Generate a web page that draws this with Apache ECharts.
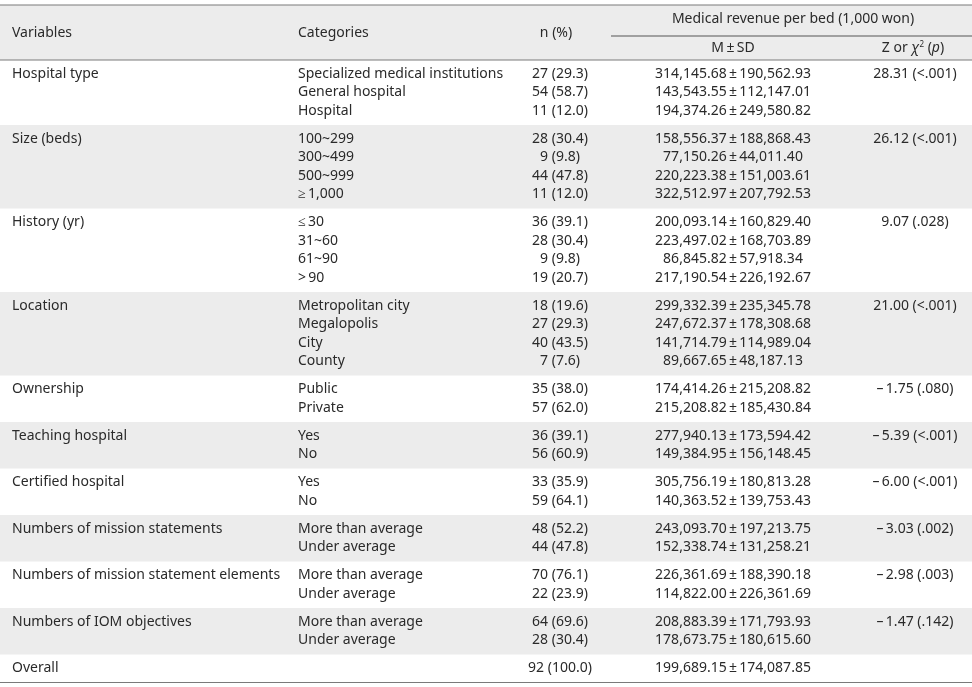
<!DOCTYPE html>
<html>
<head>
<meta charset="utf-8">
<script src="https://cdn.jsdelivr.net/npm/echarts@6/dist/echarts.min.js"></script>
<style>
html,body{margin:0;padding:0;background:#fff;}
#chart{width:972px;height:687px;}
</style>
</head>
<body>
<div id="chart"></div>
<script>
// ---------- DATA ----------
const variables = [
  'Hospital type', 'Size (beds)', 'History (yr)', 'Location', 'Ownership',
  'Teaching hospital', 'Certified hospital', 'Numbers of mission statements',
  'Numbers of mission statement elements', 'Numbers of IOM objectives', 'Overall'
];
const categories = [
  ['Specialized medical institutions', 'General hospital', 'Hospital'],
  ['100~299', '300~499', '500~999', '\u2265\u20091,000'],
  ['\u2264\u200930', '31~60', '61~90', '>\u200990'],
  ['Metropolitan city', 'Megalopolis', 'City', 'County'],
  ['Public', 'Private'],
  ['Yes', 'No'],
  ['Yes', 'No'],
  ['More than average', 'Under average'],
  ['More than average', 'Under average'],
  ['More than average', 'Under average'],
  ['']
];
const nPercent = [
  ['27 (29.3)', '54 (58.7)', '11 (12.0)'],
  ['28 (30.4)', '9 (9.8)', '44 (47.8)', '11 (12.0)'],
  ['36 (39.1)', '28 (30.4)', '9 (9.8)', '19 (20.7)'],
  ['18 (19.6)', '27 (29.3)', '40 (43.5)', '7 (7.6)'],
  ['35 (38.0)', '57 (62.0)'],
  ['36 (39.1)', '56 (60.9)'],
  ['33 (35.9)', '59 (64.1)'],
  ['48 (52.2)', '44 (47.8)'],
  ['70 (76.1)', '22 (23.9)'],
  ['64 (69.6)', '28 (30.4)'],
  ['92 (100.0)']
];
const PM = '\u2009\u00b1\u2009';
const meanSD = [
  ['314,145.68' + PM + '190,562.93', '143,543.55' + PM + '112,147.01', '194,374.26' + PM + '249,580.82'],
  ['158,556.37' + PM + '188,868.43', '77,150.26' + PM + '44,011.40', '220,223.38' + PM + '151,003.61', '322,512.97' + PM + '207,792.53'],
  ['200,093.14' + PM + '160,829.40', '223,497.02' + PM + '168,703.89', '86,845.82' + PM + '57,918.34', '217,190.54' + PM + '226,192.67'],
  ['299,332.39' + PM + '235,345.78', '247,672.37' + PM + '178,308.68', '141,714.79' + PM + '114,989.04', '89,667.65' + PM + '48,187.13'],
  ['174,414.26' + PM + '215,208.82', '215,208.82' + PM + '185,430.84'],
  ['277,940.13' + PM + '173,594.42', '149,384.95' + PM + '156,148.45'],
  ['305,756.19' + PM + '180,813.28', '140,363.52' + PM + '139,753.43'],
  ['243,093.70' + PM + '197,213.75', '152,338.74' + PM + '131,258.21'],
  ['226,361.69' + PM + '188,390.18', '114,822.00' + PM + '226,361.69'],
  ['208,883.39' + PM + '171,793.93', '178,673.75' + PM + '180,615.60'],
  ['199,689.15' + PM + '174,087.85']
];
const testStats = [
  '28.31 (<.001)', '26.12 (<.001)', '9.07 (.028)', '21.00 (<.001)',
  '\u2013\u20091.75 (.080)', '\u2013\u20095.39 (<.001)', '\u2013\u20096.00 (<.001)',
  '\u2013\u20093.03 (.002)', '\u2013\u20092.98 (.003)', '\u2013\u20091.47 (.142)', ''
];
const headers = {
  variables: 'Variables',
  categories: 'Categories',
  n: 'n (%)',
  group: 'Medical revenue per bed (1,000 won)',
  msd: 'M\u2009\u00b1\u2009SD'
};

// ---------- LAYOUT / STYLE ----------
const W = 972, H = 687;
const topLineY = 5, headBottomY = 60;
const lineH = 18.5, padTop = 14, padBottom = 14;
const colVarX = 12, colCatX = 298, colNX = 560, colMsdX = 733, colZX = 915;
const subLineX0 = 611;
const FONT = 'Noto Sans';
const FS = 14;
const TXT = '#2a2a2a';
const SHADE = '#ececec';
const RULE = '#7a7a7a';

// row tops
const rowTops = [];
let yAcc = headBottomY;
categories.forEach((c) => {
  rowTops.push(yAcc);
  yAcc += padTop + (c.length - 1) * lineH + padBottom;
});

function txt(api, x, y, s, align) {
  const p = api.coord([x, y]);
  return {
    type: 'text',
    x: p[0], y: p[1],
    style: {
      text: s, fill: TXT, font: FS + 'px "' + FONT + '"',
      align: align || 'left', verticalAlign: 'middle'
    }
  };
}

const chart = echarts.init(document.getElementById('chart'), null, {renderer: 'canvas'});

const option = {
  animation: false,
  backgroundColor: '#ffffff',
  grid: {left: 0, right: 0, top: 0, bottom: 0},
  xAxis: {type: 'value', min: 0, max: W, show: false},
  yAxis: {type: 'value', min: 0, max: H, inverse: true, show: false},
  series: [
    {
      // header block
      type: 'custom',
      clip: false,
      data: [[0, 0]],
      renderItem: function (params, api) {
        const tl = api.coord([0, topLineY]);
        const br = api.coord([W, headBottomY]);
        const children = [];
        children.push({type: 'rect', shape: {x: tl[0], y: tl[1], width: br[0] - tl[0], height: br[1] - tl[1]}, style: {fill: SHADE}});
        children.push({type: 'line', shape: {x1: tl[0], y1: tl[1], x2: br[0], y2: tl[1]}, style: {stroke: RULE, lineWidth: 1.2}});
        children.push({type: 'line', shape: {x1: tl[0], y1: br[1], x2: br[0], y2: br[1]}, style: {stroke: RULE, lineWidth: 1.2}});
        const s0 = api.coord([subLineX0, 36]);
        children.push({type: 'line', shape: {x1: s0[0], y1: s0[1], x2: br[0], y2: s0[1]}, style: {stroke: '#555', lineWidth: 1}});
        children.push(txt(api, colVarX, 33, headers.variables, 'left'));
        children.push(txt(api, colCatX, 33, headers.categories, 'left'));
        children.push(txt(api, colNX - 4, 33, headers.n, 'center'));
        children.push(txt(api, 793, 19, headers.group, 'center'));
        children.push(txt(api, colMsdX, 48, headers.msd, 'center'));
        const zp = api.coord([colZX - 2, 48]);
        children.push({
          type: 'text', x: zp[0], y: zp[1],
          style: {
            text: 'Z or {chi|\u03c7}{sup|2} ({it|p})',
            fill: TXT, font: FS + 'px "' + FONT + '"', align: 'center', verticalAlign: 'middle',
            rich: {
              chi: {fontFamily: FONT, fontSize: FS, fontStyle: 'italic', fill: TXT},
              sup: {fontFamily: FONT, fontSize: 8, fill: TXT, verticalAlign: 'top', padding: [0, 0, 6, 0]},
              it: {fontFamily: FONT, fontSize: FS, fontStyle: 'italic', fill: TXT}
            }
          }
        });
        return {type: 'group', children: children};
      }
    },
    {
      // body rows
      type: 'custom',
      clip: false,
      data: variables.map((v, i) => [i, rowTops[i]]),
      renderItem: function (params, api) {
        const i = api.value(0);
        const top = api.value(1);
        const nLines = categories[i].length;
        const h = padTop + (nLines - 1) * lineH + padBottom;
        const tl = api.coord([0, top]);
        const br = api.coord([W, top + h]);
        const children = [];
        if (i % 2 === 1) {
          children.push({type: 'rect', shape: {x: tl[0], y: tl[1], width: br[0] - tl[0], height: br[1] - tl[1]}, style: {fill: SHADE}});
        }
        const y0 = top + padTop;
        children.push(txt(api, colVarX, y0, variables[i], 'left'));
        for (let k = 0; k < nLines; k++) {
          const yy = y0 + k * lineH;
          if (categories[i][k]) children.push(txt(api, colCatX, yy, categories[i][k], 'left'));
          if (nPercent[i][k]) children.push(txt(api, colNX, yy, nPercent[i][k], 'center'));
          if (meanSD[i][k]) children.push(txt(api, colMsdX, yy, meanSD[i][k], 'center'));
        }
        if (testStats[i]) children.push(txt(api, colZX, y0, testStats[i], 'center'));
        if (i === variables.length - 1) {
          children.push({type: 'line', shape: {x1: tl[0], y1: br[1], x2: br[0], y2: br[1]}, style: {stroke: RULE, lineWidth: 1.2}});
        }
        return {type: 'group', children: children};
      }
    }
  ]
};
chart.setOption(option);
</script>
</body>
</html>
